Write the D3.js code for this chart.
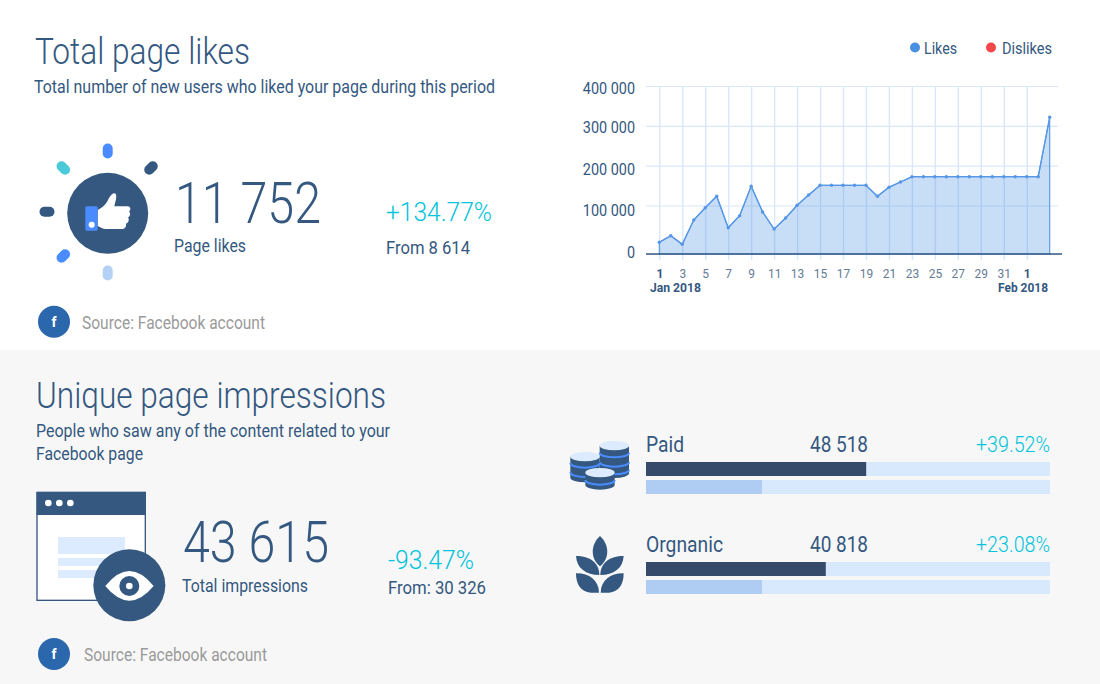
<!DOCTYPE html>
<html lang="en">
<head>
<meta charset="UTF-8">
<title>Page likes and impressions</title>
<script src="https://d3js.org/d3.v7.min.js"></script>
<style>
    body { margin: 0; background: #fff; font-family: Roboto, Arial, sans-serif; }
    svg { display: block; }
    .domain { display: none; }
</style>
</head>
<body>
<svg id="chart" width="1100" height="684"></svg>
<script>
const likes = [24100, 37700, 20000, 70100, 95500, 123100, 54200, 79000, 148200, 86600, 51500,
    74200, 100500, 126400, 150700, 150700, 150700, 150700, 150700, 123100, 145700, 159000,
    172300, 172300, 172300, 172300, 172300, 172300, 172300, 172300, 172300, 172300, 172300, 172300, 321400];
const yTicks = [0, 100000, 200000, 300000, 400000];
const xTickLabels = ["1", "3", "5", "7", "9", "11", "13", "15", "17", "19", "21", "23", "25", "27", "29", "31", "1"];
const legendNames = ["Likes", "Dislikes"];
const legendColors = ["#4a90e2", "#f4474a"];

const sourceNames = ["Paid", "Orgnanic"];
const sourceTotals = ["48 518", "40 818"];
const sourceChanges = ["+39.52%", "+23.08%"];
const currentShare = [54.5, 44.5];
const previousShare = [28.7, 28.7];

const navy = "#34587f", darkBar = "#364b69", cyan = "#00c3dc", pale = "#dcebff", blue = "#4a8cff";
const lineBlue = "#5597e6";

const svg = d3.select("#chart");

// text helper, the reference font is narrower than Roboto so squeeze to measured width
function txt(parent, x, y, s, size, color, w, weight) {
    const t = parent.append("text")
        .attr("x", x).attr("y", y)
        .attr("font-size", size)
        .attr("font-weight", weight || 400)
        .attr("fill", color)
        .text(s);
    if (w) t.attr("textLength", w).attr("lengthAdjust", "spacingAndGlyphs");
    return t;
}

function squeeze(sel, k) {
    sel.each(function () {
        this.setAttribute("textLength", this.getComputedTextLength() * k);
        this.setAttribute("lengthAdjust", "spacingAndGlyphs");
    });
}

// backgrounds
svg.append("rect").attr("x", 0).attr("y", 350).attr("width", 1100).attr("height", 334).attr("fill", "#f7f7f7");

// top panel text
txt(svg, 35, 64, "Total page likes", 36, navy, 215, 300);
txt(svg, 34, 93, "Total number of new users who liked your page during this period", 18, navy, 461);
txt(svg, 175, 223, "11 752", 58, navy, 146, 300);
txt(svg, 174, 252, "Page likes", 18, navy, 72);
txt(svg, 386, 221, "+134.77%", 26, cyan, 106, 300);
txt(svg, 386, 254, "From 8 614", 19, navy, 84);
txt(svg, 82, 329, "Source: Facebook account", 18, "#9a9a9a", 183);

// bottom panel text
txt(svg, 36, 408, "Unique page impressions", 36, navy, 350, 300);
txt(svg, 36, 437, "People who saw any of the content related to your", 18, navy, 354);
txt(svg, 36, 460, "Facebook page", 18, navy, 107);
txt(svg, 183, 562, "43 615", 58, navy, 146, 300);
txt(svg, 182, 592, "Total impressions", 18, navy, 126);
txt(svg, 388, 569, "-93.47%", 26, cyan, 86, 300);
txt(svg, 388, 594, "From: 30 326", 19, navy, 98);
txt(svg, 84, 661, "Source: Facebook account", 18, "#9a9a9a", 183);

// legend
const legendX = [915, 991], legendW = [33, 50];
legendNames.forEach((name, i) => {
    svg.append("circle").attr("cx", legendX[i]).attr("cy", 47.5).attr("r", 5).attr("fill", legendColors[i]);
    txt(svg, legendX[i] + (i ? 11 : 9), 54, name, 16, navy, legendW[i]);
});

// area chart
const x = d3.scaleLinear().domain([0, likes.length - 1]).range([659.3, 1049.7]);
// the reference leaves extra room under 100 000, so this scale has two segments
const y = d3.scaleLinear().domain([0, 100000, 400000]).range([254, 205.5, 86]);
const fmt = d3.formatLocale({ decimal: ".", thousands: " ", grouping: [3], currency: ["", ""] }).format(",");

const yAxis = svg.append("g").attr("transform", "translate(646,0)")
    .call(d3.axisLeft(y).tickValues(yTicks).tickSize(-412).tickPadding(11).tickFormat(fmt));
yAxis.selectAll("line").attr("stroke", "#d8e7fc").attr("stroke-width", 1.2);
const yNudge = [-2, 5, 4, 2, 2];
yAxis.selectAll("text")
    .attr("font-family", "Roboto, Arial, sans-serif").attr("font-size", 16).attr("fill", navy)
    .attr("y", (d, i) => yNudge[i]);
squeeze(yAxis.selectAll("text"), 0.9);

const xAxis = svg.append("g").attr("transform", "translate(0,254)")
    .call(d3.axisBottom(x).tickValues(d3.range(0, 33, 2)).tickPadding(9).tickFormat((d, i) => xTickLabels[i]));
xAxis.selectAll("line").attr("y1", 6).attr("y2", -168).attr("stroke", "#d8e7fc").attr("stroke-width", 1.4);
xAxis.selectAll("text")
    .attr("font-family", "Roboto, Arial, sans-serif").attr("font-size", 13)
    .attr("fill", (d, i) => (i === 0 || i === 16) ? navy : "#667b94")
    .attr("font-weight", (d, i) => (i === 0 || i === 16) ? 700 : 400);
squeeze(xAxis.selectAll("text"), 0.92);

const area = d3.area().x((d, i) => x(i)).y0(y(0)).y1(d => y(d));
const line = d3.line().x((d, i) => x(i)).y(d => y(d));
svg.append("path").datum(likes).attr("d", area)
    .attr("fill", "#4a90e2").attr("fill-opacity", 0.3)
    .attr("stroke", lineBlue).attr("stroke-width", 1.1);
svg.append("path").datum(likes).attr("d", line)
    .attr("fill", "none").attr("stroke", lineBlue).attr("stroke-width", 1.3);
svg.selectAll(".pt").data(likes).enter().append("circle")
    .attr("class", "pt")
    .attr("cx", (d, i) => x(i)).attr("cy", d => y(d)).attr("r", 1.7).attr("fill", lineBlue);
svg.append("line").attr("x1", 646).attr("x2", 1062).attr("y1", y(0)).attr("y2", y(0))
    .attr("stroke", navy).attr("stroke-width", 1.5);

txt(svg, 650, 292, "Jan 2018", 13.5, navy, 51, 700);
txt(svg, 998, 292, "Feb 2018", 13.5, navy, 50, 700);

// source bars
const barX = d3.scaleLinear().domain([0, 100]).range([646, 1050]);
const barTop = [462, 562];
sourceNames.forEach((name, i) => {
    const top = barTop[i];
    txt(svg, 646, top - 10, name, 22, navy, i ? 77 : 38);
    txt(svg, 810, top - 10, sourceTotals[i], 22, navy, 58);
    txt(svg, 976, top - 10, sourceChanges[i], 22, cyan, 74, 300);
    [0, 18].forEach(off => {
        svg.append("rect").attr("x", barX(0)).attr("y", top + off)
            .attr("width", barX(100) - barX(0)).attr("height", 14).attr("fill", "#d9e9fd");
    });
    svg.append("rect").attr("x", barX(0)).attr("y", top)
        .attr("width", barX(currentShare[i]) - barX(0)).attr("height", 14).attr("fill", darkBar);
    svg.append("rect").attr("x", barX(0)).attr("y", top + 18)
        .attr("width", barX(previousShare[i]) - barX(0)).attr("height", 14).attr("fill", "#afcdf2");
});

// --- icons ---
function fbBadge(cy) {
    svg.append("circle").attr("cx", 54).attr("cy", cy).attr("r", 16).attr("fill", "#2b67ad");
    svg.append("text").attr("x", 54).attr("y", cy + 5).attr("text-anchor", "middle")
        .attr("font-size", 14).attr("font-weight", 700).attr("fill", "#fff").text("f");
}
fbBadge(321.7);
fbBadge(654);

// thumbs up burst
const burst = [
    [107.7, 151, 90, blue], [151, 168, -45, navy], [63.3, 168, 45, "#4ac9d8"],
    [47, 211.7, 0, navy], [63.3, 256, -45, blue], [107.7, 273, 90, "#b4d0f4"]
];
burst.forEach(b => {
    svg.append("rect").attr("x", -7.5).attr("y", -5).attr("width", 15).attr("height", 10).attr("rx", 5)
        .attr("fill", b[3]).attr("transform", `translate(${b[0]},${b[1]}) rotate(${b[2]})`);
});
svg.append("circle").attr("cx", 107.7).attr("cy", 213.3).attr("r", 40.5).attr("fill", navy);
const thumb = svg.append("g").attr("transform", "translate(20,130) scale(0.3333)");
thumb.append("path").attr("fill", "#fff")
    .attr("d", "M233 240 C248 232 258 222 263 212 C268 202 274 192 281 190 C289 188 290 198 288 208 L283 229 L322 229 C332 229 334 240 327 244 C333 250 331 260 324 262 C329 270 325 279 318 281 C320 290 314 297 305 297 L258 297 C248 297 242 292 233 288 Z");
thumb.append("rect").attr("x", 196).attr("y", 229).attr("width", 37).attr("height", 73).attr("rx", 4).attr("fill", blue);
thumb.append("circle").attr("cx", 215).attr("cy", 284).attr("r", 9).attr("fill", "#fff");

// browser window with eye
const win = svg.append("g").attr("transform", "translate(20,480) scale(0.3333)");
win.append("rect").attr("x", 51).attr("y", 37).attr("width", 325).attr("height", 324)
    .attr("fill", "#fff").attr("stroke", navy).attr("stroke-width", 4);
win.append("rect").attr("x", 50).attr("y", 36).attr("width", 327).attr("height", 69).attr("fill", navy);
[85, 118, 151].forEach(cx => win.append("circle").attr("cx", cx).attr("cy", 69).attr("r", 10).attr("fill", "#fff"));
[[171, 51], [234, 24], [270, 24]].forEach(r => {
    win.append("rect").attr("x", 114).attr("y", r[0]).attr("width", 201).attr("height", r[1]).attr("fill", pale);
});
win.append("circle").attr("cx", 328).attr("cy", 316).attr("r", 108).attr("fill", navy);
win.append("path").attr("fill", "#fff").attr("d", "M256 318 Q328 228 401 318 Q328 406 256 318 Z");
win.append("circle").attr("cx", 328).attr("cy", 318).attr("r", 30).attr("fill", navy);
win.append("circle").attr("cx", 328).attr("cy", 318).attr("r", 10).attr("fill", "#fff");

// coin stacks
const coins = svg.append("g").attr("transform", "translate(560,425) scale(0.3333)");
function stack(cx, top, bottom, stripes) {
    coins.append("path").attr("fill", navy)
        .attr("d", `M${cx - 44} ${top} L${cx - 44} ${bottom} A44 14 0 0 0 ${cx + 44} ${bottom} L${cx + 44} ${top} Z`);
    stripes.forEach(s => {
        coins.append("path").attr("fill", "none").attr("stroke", blue).attr("stroke-width", 6)
            .attr("d", `M${cx - 44} ${s} A44 14 0 0 0 ${cx + 44} ${s}`);
    });
    coins.append("ellipse").attr("cx", cx).attr("cy", top).attr("rx", 44).attr("ry", 14).attr("fill", pale);
}
stack(163, 62, 145, [83, 111, 134]);
stack(75, 95, 158, [114, 142]);
stack(120, 143, 180, [165]);

// leaves
const leaf = svg.append("g").attr("transform", "translate(560,425) scale(0.3333)").attr("fill", navy);
leaf.append("path").attr("d", "M120 333 C148 358 150 400 120 424 C90 400 92 358 120 333 Z");
leaf.append("path").attr("d", "M48 393 C90 393 118 414 118 450 C78 450 50 430 48 393 Z");
leaf.append("path").attr("d", "M191 393 C149 393 121 414 121 450 C161 450 189 430 191 393 Z");
leaf.append("path").attr("d", "M48 445 C86 444 116 464 117 503 L92 503 C62 500 48 478 48 445 Z");
leaf.append("path").attr("d", "M191 445 C153 444 123 464 122 503 L147 503 C177 500 191 478 191 445 Z");
</script>
</body>
</html>
